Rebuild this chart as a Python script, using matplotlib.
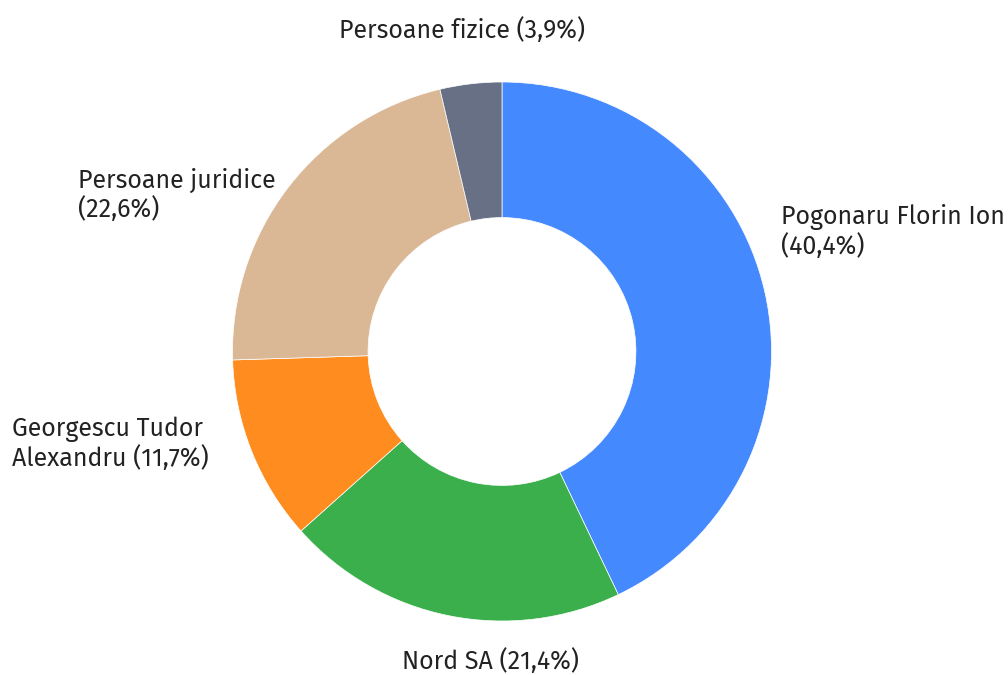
import matplotlib
matplotlib.use("Agg")
import matplotlib.pyplot as plt

plt.rcParams['font.family'] = ['Fira Sans', 'Noto Sans', 'DejaVu Sans']

categories = ["Pogonaru Florin Ion", "Nord SA", "Georgescu Tudor Alexandru",
              "Persoane juridice", "Persoane fizice"]
# wedge sizes as drawn in the picture (measured from slice angles)
wedge_sizes = [42.9, 20.5, 11.1, 21.8, 3.7]
# shares printed in the labels
label_shares = ["40,4%", "21,4%", "11,7%", "22,6%", "3,9%"]
label_texts = ["Pogonaru Florin Ion\n({})", "Nord SA ({})",
               "Georgescu Tudor\nAlexandru ({})", "Persoane juridice\n({})",
               "Persoane fizice ({})"]
colors = ["#4589FF", "#3BAF4B", "#FF8C1F", "#DAB896", "#687086"]

W, H = 1008, 675
fig = plt.figure(figsize=(W / 100, H / 100), dpi=100)
ax = fig.add_axes([0, 0, 1, 1])

cx, cy, R = 502, H - 351.5, 269.5
ax.pie(wedge_sizes, colors=colors, startangle=90, counterclock=False,
       center=(cx, cy), radius=R, frame=True,
       wedgeprops=dict(width=R * 0.503, edgecolor='white', linewidth=0.5))
ax.set_xlim(0, W)
ax.set_ylim(0, H)
ax.set_aspect('equal')
ax.axis('off')

# label positions (pixel coords from top-left)
pos = [(781, 232, 'left'), (490, 661, 'center'), (12, 444, 'left'),
       (78, 195, 'left'), (462, 30, 'center')]
for tmpl, share, (x, y, ha) in zip(label_texts, label_shares, pos):
    ax.text(x, H - y, tmpl.format(share), ha=ha, va='center', fontsize=18,
            color='#222222', linespacing=1.15)

fig.savefig("out.png", dpi=100)
